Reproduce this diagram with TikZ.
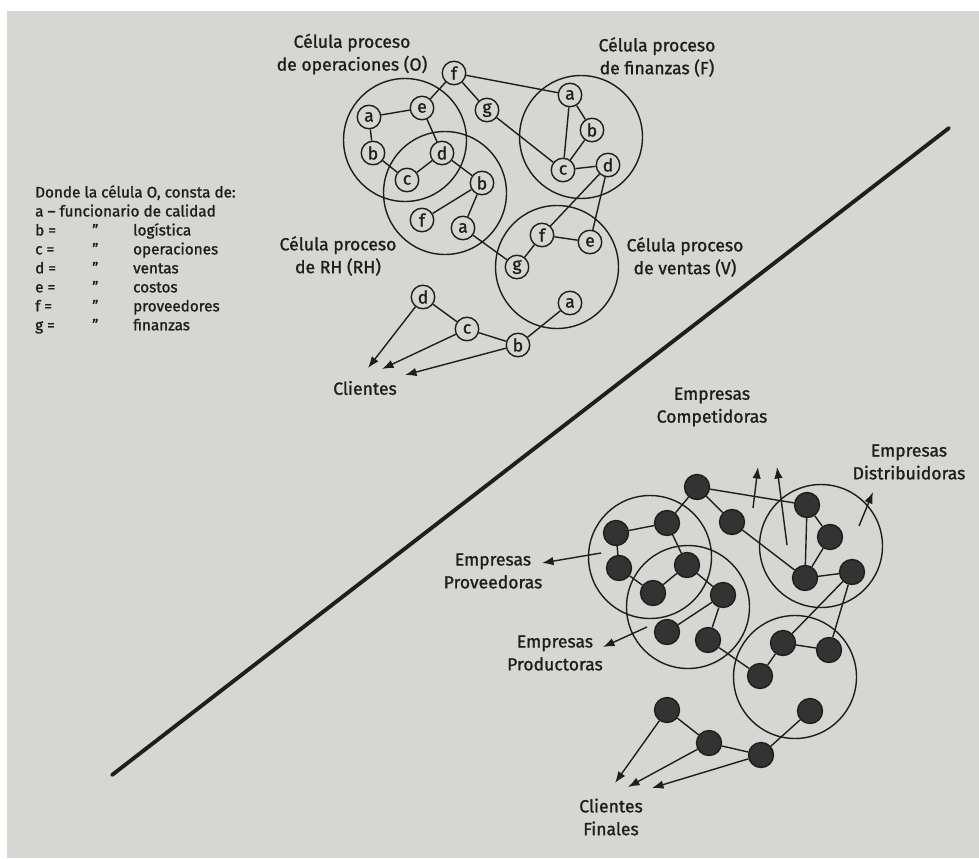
\documentclass[tikz,border=0pt]{standalone}
\usepackage{fontspec}
\setmainfont{Fira Sans}[FakeBold=1.2]
\usepackage{xcolor}
\usetikzlibrary{arrows.meta,positioning}

\definecolor{paper}{RGB}{214,214,210}
\definecolor{ink}{RGB}{30,30,30}

\begin{document}
\begin{tikzpicture}[
    x=0.02cm,
    y=-0.02cm,
    font=\fontsize{10}{13}\selectfont,
    member/.style={
        circle,
        draw=ink,
        thick,
        fill=paper,
        inner sep=0pt,
        minimum size=0.47cm,
        text=ink
    },
    firm/.style={
        circle,
        draw=ink,
        thick,
        fill=black!80,
        inner sep=0pt,
        minimum size=0.5cm
    },
    cell/.style={
        circle,
        draw=ink,
        thick,
        minimum size=2.46cm
    },
    caption/.style={
        align=center,
        text=ink
    },
    line/.style={
        draw=ink, thick
    },
    link/.style={
        draw=ink, -{Latex[length=2.3mm,width=1.7mm]}, thick
    }
]

    % Paper
    \fill [white] (0,0) rectangle (979,858);
    \fill [paper] (7,11) rectangle (979,858);
    \useasboundingbox (0,0) rectangle (979,858);

    % Legend
    \node [caption, anchor=north west, align=left, font=\fontsize{8.7}{10.8}\selectfont] (legend) at (29,178) {%
        \begin{tabular}{@{}p{0.96cm}@{}p{1.0cm}@{}l@{}}
        \multicolumn{3}{@{}l@{}}{Donde la célula O, consta de:}\\
        \multicolumn{3}{@{}l@{}}{a -- funcionario de calidad}\\
        b = & \hspace{0.18cm}'' & logística\\
        c = & \hspace{0.18cm}'' & operaciones\\
        d = & \hspace{0.18cm}'' & ventas\\
        e = & \hspace{0.18cm}'' & costos\\
        f = & \hspace{0.18cm}'' & proveedores\\
        g = & \hspace{0.18cm}'' & finanzas
        \end{tabular}};

    % Dividing line
    \coordinate (cutA) at (112,775);
    \coordinate (cutB) at (949,128);
    \draw [ink, line width=2.2pt, line cap=round] (cutA) -- (cutB);

    % Cells of the company
    \node [cell] (cellO) at (405,140) {};
    \node [cell] (cellRH) at (445,193) {};
    \node [cell] (cellF) at (581,137) {};
    \node [cell] (cellV) at (557,267) {};

    % Members
    \node [member] (oa) at (369,117) {a};
    \node [member] (oe) at (422,108) {e};
    \node [member] (ob) at (373,153) {b};
    \node [member] (od) at (442,153) {d};
    \node [member] (oc) at (407,180) {c};
    \node [member] (rb) at (482,183) {b};
    \node [member] (rf) at (422,220) {f};
    \node [member] (ra) at (463,228) {a};
    \node [member] (tf) at (454,73) {f};
    \node [member] (tg) at (487,110) {g};
    \node [member] (fa) at (570,95) {a};
    \node [member] (fb) at (592,130) {b};
    \node [member] (fc) at (563,170) {c};
    \node [member] (fd) at (608,165) {d};
    \node [member] (vf) at (542,235) {f};
    \node [member] (ve) at (590,242) {e};
    \node [member] (vg) at (517,267) {g};
    \node [member] (va) at (570,303) {a};
    \node [member] (kd) at (423,297) {d};
    \node [member] (kc) at (467,329) {c};
    \node [member] (kb) at (518,345) {b};

    % Captions
    \node [caption] (capO) at (352,54) {Célula proceso\\de operaciones (O)};
    \node [caption] (capF) at (657,57) {Célula proceso\\de finanzas (F)};
    \node [caption] (capV) at (685,257) {Célula proceso\\de ventas (V)};
    \node [caption] (capRH) at (338,256) {Célula proceso\\de RH (RH)};
    \node [caption] (clients) at (365,388) {Clientes};
    \coordinate (toClientD) at (368,368);
    \coordinate (toClientC) at (382,369);
    \coordinate (toClientB) at (405,375);

    % Edges
    \path [line] (tf) -- (oe);
    \path [line] (tf) -- (tg);
    \path [line] (tf) -- (fa);
    \path [line] (tg) -- (fc);
    \path [line] (oa) -- (oe);
    \path [line] (oa) -- (ob);
    \path [line] (ob) -- (oc);
    \path [line] (oe) -- (od);
    \path [line] (oc) -- (od);
    \path [line] (od) -- (rb);
    \path [line] (rb) -- (rf);
    \path [line] (rb) -- (ra);
    \path [line] (ra) -- (vg);
    \path [line] (fa) -- (fb);
    \path [line] (fa) -- (fc);
    \path [line] (fb) -- (fc);
    \path [line] (fc) -- (fd);
    \path [line] (fd) -- (vf);
    \path [line] (fd) -- (ve);
    \path [line] (vf) -- (ve);
    \path [line] (vf) -- (vg);
    \path [line] (va) -- (kb);
    \path [line] (kb) -- (kc);
    \path [line] (kc) -- (kd);
    \path [link] (kd) -- (toClientD);
    \path [link] (kc) -- (toClientC);
    \path [link] (kb) -- (toClientB);

    % Cells of the network
    \node [cell] (cellP) at (650,557) {};
    \node [cell] (cellR) at (688,607) {};
    \node [cell] (cellD) at (821,546) {};
    \node [cell] (cellS) at (795,677) {};

    % Firms
    \node [firm] (xf) at (697,487) {};
    \node [firm] (xg) at (732,522) {};
    \node [firm] (pa) at (616,533) {};
    \node [firm] (pe) at (667,523) {};
    \node [firm] (pb) at (619,568) {};
    \node [firm] (pd) at (687,565) {};
    \node [firm] (pc) at (653,593) {};
    \node [firm] (qb) at (723,595) {};
    \node [firm] (qf) at (667,632) {};
    \node [firm] (qa) at (708,640) {};
    \node [firm] (da) at (807,505) {};
    \node [firm] (db) at (830,537) {};
    \node [firm] (dc) at (805,578) {};
    \node [firm] (dd) at (852,572) {};
    \node [firm] (sf) at (783,643) {};
    \node [firm] (se) at (829,650) {};
    \node [firm] (sg) at (760,676) {};
    \node [firm] (sa) at (810,711) {};
    \node [firm] (cd) at (667,710) {};
    \node [firm] (cc) at (709,743) {};
    \node [firm] (cb) at (761,755) {};

    % Captions
    \node [caption] (rivals) at (712,407) {Empresas\\Competidoras};
    \node [caption] (dealers) at (909,462) {Empresas\\Distribuidoras};
    \node [caption] (suppliers) at (493,571) {Empresas\\Proveedoras};
    \node [caption] (makers) at (555,653) {Empresas\\Productoras};
    \node [caption] (finals) at (611,817) {Clientes\\Finales};
    \coordinate (rivalA0) at (753,508);
    \coordinate (rivalA1) at (758,467);
    \coordinate (rivalB0) at (787,545);
    \coordinate (rivalB1) at (777,467);
    \coordinate (dealer0) at (859,526);
    \coordinate (dealer1) at (873,492);
    \coordinate (supplier0) at (601,553);
    \coordinate (supplier1) at (542,563);
    \coordinate (maker0) at (647,627);
    \coordinate (maker1) at (603,647);
    \coordinate (toFinalD) at (615,783);
    \coordinate (toFinalC) at (628,787);
    \coordinate (toFinalB) at (652,788);

    % Edges
    \path [line] (xf) -- (pe);
    \path [line] (xf) -- (xg);
    \path [line] (xf) -- (da);
    \path [line] (xg) -- (dc);
    \path [line] (pa) -- (pe);
    \path [line] (pa) -- (pb);
    \path [line] (pb) -- (pc);
    \path [line] (pe) -- (pd);
    \path [line] (pc) -- (pd);
    \path [line] (pd) -- (qb);
    \path [line] (qb) -- (qf);
    \path [line] (qb) -- (qa);
    \path [line] (qa) -- (sg);
    \path [line] (da) -- (db);
    \path [line] (da) -- (dc);
    \path [line] (db) -- (dc);
    \path [line] (dc) -- (dd);
    \path [line] (dd) -- (sf);
    \path [line] (dd) -- (se);
    \path [line] (sf) -- (se);
    \path [line] (sf) -- (sg);
    \path [line] (sa) -- (cb);
    \path [line] (cb) -- (cc);
    \path [line] (cc) -- (cd);
    \path [link] (rivalA0) -- (rivalA1);
    \path [link] (rivalB0) -- (rivalB1);
    \path [link] (dealer0) -- (dealer1);
    \path [link] (supplier0) -- (supplier1);
    \path [link] (maker0) -- (maker1);
    \path [link] (cd) -- (toFinalD);
    \path [link] (cc) -- (toFinalC);
    \path [link] (cb) -- (toFinalB);

\end{tikzpicture}
\end{document}
